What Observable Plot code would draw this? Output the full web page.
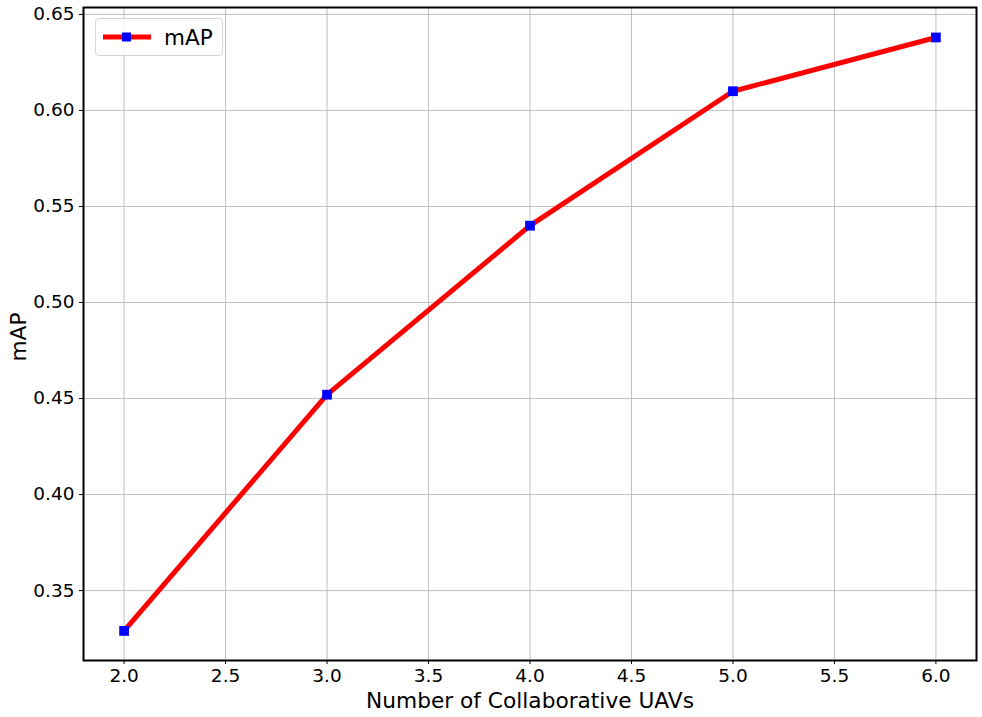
<!DOCTYPE html>
<html>
<head>
<meta charset="utf-8">
<script src="https://cdn.jsdelivr.net/npm/d3@7"></script>
<script src="https://cdn.jsdelivr.net/npm/@observablehq/plot@0.6"></script>
<style>
  html, body { margin: 0; padding: 0; background: #fff; }
  #wrap { position: relative; width: 982px; height: 717px; font-family: "DejaVu Sans", sans-serif; }
  #legend { position: absolute; left: 95px; top: 18px; width: 128px; height: 38px;
    border: 1px solid #d6d6d6; border-radius: 4px; background: rgba(255,255,255,0.8);
    display: flex; align-items: center; box-sizing: border-box; }
  #legend span { font-size: 21.5px; color: #000; margin-left: 12px; font-family: "DejaVu Sans", sans-serif; }
</style>
</head>
<body>
<div id="wrap"></div>
<script>
const uavs = [2, 3, 4, 5, 6];
const mAP = [0.329, 0.452, 0.540, 0.610, 0.638];
const xTicks = [2.0, 2.5, 3.0, 3.5, 4.0, 4.5, 5.0, 5.5, 6.0];
const yTicks = [0.35, 0.40, 0.45, 0.50, 0.55, 0.60, 0.65];
const xLabel = "Number of Collaborative UAVs";
const yLabel = "mAP";
const seriesName = "mAP";

const data = uavs.map((u, i) => ({x: u, y: mAP[i]}));

const chart = Plot.plot({
  width: 982,
  height: 717,
  marginLeft: 83,
  marginRight: 6,
  marginTop: 7,
  marginBottom: 57,
  style: {fontFamily: "'DejaVu Sans', sans-serif", fontSize: "18.5px", background: "#fff", color: "#000"},
  x: {domain: [1.8, 6.2], label: null},
  y: {domain: [0.3136, 0.6536], label: null},
  marks: [
    Plot.gridX(xTicks, {stroke: "#b0b0b0", strokeOpacity: 1, strokeWidth: 0.8}),
    Plot.gridY(yTicks, {stroke: "#b0b0b0", strokeOpacity: 1, strokeWidth: 0.8}),
    Plot.axisX(xTicks, {tickFormat: d3.format(".1f"), tickSize: 4, tickPadding: 4, fontSize: "18.5px", stroke: "#000", strokeWidth: 1, label: null}),
    Plot.axisY(yTicks, {tickFormat: d3.format(".2f"), tickSize: 4, tickPadding: 5, fontSize: "18.5px", stroke: "#000", strokeWidth: 1, label: null}),
    Plot.line(data, {x: "x", y: "y", stroke: "#ff0000", strokeWidth: 5, strokeLinejoin: "round"}),
    Plot.dot(data, {x: "x", y: "y", symbol: "square", r: 5.5, fill: "#0000ff", stroke: "none"}),
    Plot.frame({stroke: "#000", strokeWidth: 2}),
    Plot.text([xLabel], {frameAnchor: "bottom", lineAnchor: "middle", textAnchor: "middle", dy: 41, fontSize: "21.7px", fill: "#000"}),
    Plot.text([yLabel], {frameAnchor: "left", lineAnchor: "middle", textAnchor: "middle", dx: -64.3, dy: 3, rotate: -90, fontSize: "21.7px", fill: "#000"})
  ]
});

const wrap = document.getElementById("wrap");
wrap.appendChild(chart);

const legend = document.createElement("div");
legend.id = "legend";
const ns = "http://www.w3.org/2000/svg";
const sw = document.createElementNS(ns, "svg");
sw.setAttribute("width", "50");
sw.setAttribute("height", "20");
sw.style.marginLeft = "6px";
const ln = document.createElementNS(ns, "line");
ln.setAttribute("x1", "1"); ln.setAttribute("x2", "49");
ln.setAttribute("y1", "10"); ln.setAttribute("y2", "10");
ln.setAttribute("stroke", "#ff0000"); ln.setAttribute("stroke-width", "5");
const rc = document.createElementNS(ns, "rect");
rc.setAttribute("x", "20"); rc.setAttribute("y", "5.5");
rc.setAttribute("width", "9"); rc.setAttribute("height", "9");
rc.setAttribute("fill", "#0000ff");
sw.appendChild(ln); sw.appendChild(rc);
legend.appendChild(sw);
const lt = document.createElement("span");
lt.textContent = seriesName;
legend.appendChild(lt);
wrap.appendChild(legend);
</script>
</body>
</html>
